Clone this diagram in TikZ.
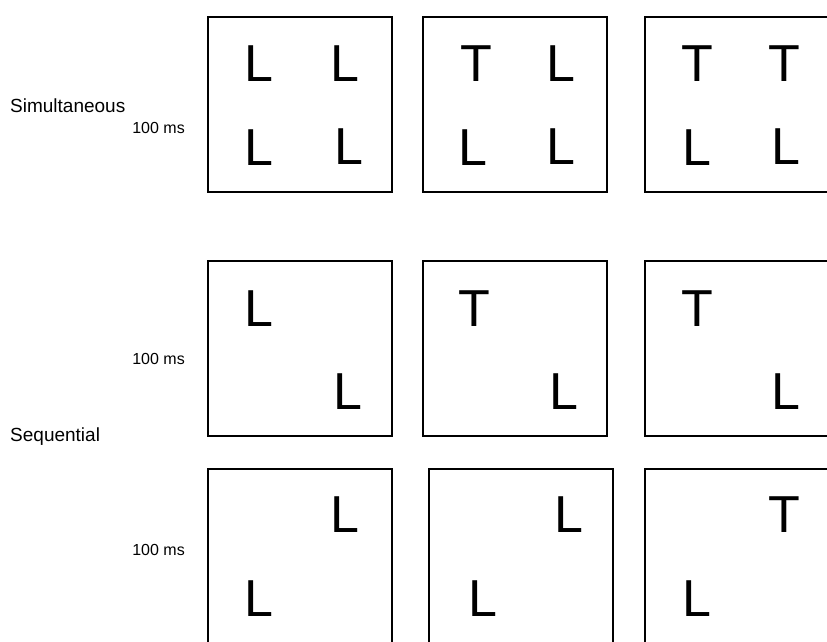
\documentclass[tikz,border=0pt]{standalone}
\usepackage{fontspec}
\setmainfont{Liberation Sans}
\usetikzlibrary{positioning}
\tikzset{
    panel/.style={
        rectangle,                % marco de cada pantalla
        draw=black,               % borde negro
        line width=2.2pt,         % trazo grueso como en el original
        minimum width=184pt,      % ancho del marco
        minimum height=175pt,     % alto del marco
        inner sep=0pt,
        outer sep=0pt,
        anchor=north west         % se coloca por la esquina superior izquierda
    },
    panelcut/.style={
        panel,
        minimum height=200pt      % la última fila queda cortada abajo
    },
    letra/.style={
        inner sep=0pt,            % el centro del nodo es el centro de la letra
        font=\fontsize{52}{52}\selectfont
    },
    etiqueta/.style={
        inner sep=0pt,
        anchor=west,              % texto pegado al margen izquierdo
        font=\fontsize{19}{19}\selectfont
    },
    tiempo/.style={
        inner sep=0pt,
        anchor=east,              % alineado a la derecha, junto a los marcos
        font=\fontsize{16}{16}\selectfont
    }
}

\begin{document}
\begin{tikzpicture}[x=1pt,y=-1pt]
    \useasboundingbox (0,0) rectangle (827,641);
    \clip (0,0) rectangle (827,641);

    \node[etiqueta] (simult) at (10,106) {Simultaneous};
    \node[etiqueta] (secuen) at (10,437) {Sequential};
    \node[tiempo] (t1) at (185,128) {100 ms};
    \node[tiempo] (t2) at (185,359) {100 ms};
    \node[tiempo] (t3) at (185,550) {100 ms};

    \node[panel] (simA) at (208,17) {};
    \node[panel] (simB) at (423,17) {};
    \node[panel] (simC) at (645,17) {};
    \node[panel] (seqA) at (208,261) {};
    \node[panel] (seqB) at (423,261) {};
    \node[panel] (seqC) at (645,261) {};
    \node[panelcut] (segA) at (208,469) {};
    \node[panelcut] (segB) at (429,469) {};
    \node[panelcut] (segC) at (645,469) {};

    \node[letra] (simA1) at (259,63.5) {L};
    \node[letra] (simA2) at (345,63.5) {L};
    \node[letra] (simA3) at (259,148) {L};
    \node[letra] (simA4) at (349,146.5) {L};
    \node[letra] (simB1) at (476,63.5) {T};
    \node[letra] (simB2) at (561,63.5) {L};
    \node[letra] (simB3) at (473,148) {L};
    \node[letra] (simB4) at (561,146.5) {L};
    \node[letra] (simC1) at (697,63.5) {T};
    \node[letra] (simC2) at (784,63.5) {T};
    \node[letra] (simC3) at (697,148) {L};
    \node[letra] (simC4) at (786,146.5) {L};

    \node[letra] (seqA1) at (259,309) {L};
    \node[letra] (seqA2) at (348,392) {L};
    \node[letra] (seqB1) at (474,309) {T};
    \node[letra] (seqB2) at (564,392) {L};
    \node[letra] (seqC1) at (697,309) {T};
    \node[letra] (seqC2) at (786,392) {L};

    \node[letra] (segA1) at (345,515) {L};
    \node[letra] (segA2) at (259,599) {L};
    \node[letra] (segB1) at (569,515) {L};
    \node[letra] (segB2) at (483,599) {L};
    \node[letra] (segC1) at (784,515) {T};
    \node[letra] (segC2) at (697,599) {L};
\end{tikzpicture}
\end{document}
